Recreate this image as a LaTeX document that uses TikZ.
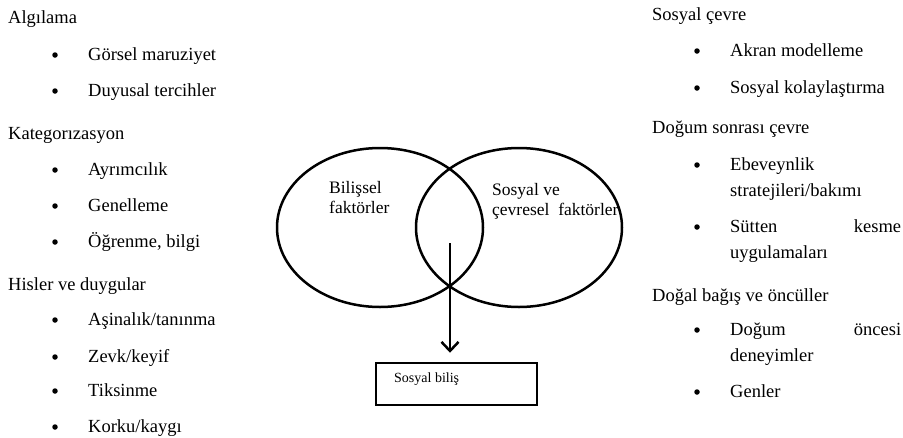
\documentclass[tikz,border=0pt]{standalone}
\usepackage{fontspec}
\setmainfont{Liberation Serif}
\usetikzlibrary{shapes.geometric,arrows.meta,positioning}
\hyphenpenalty=10000
\exhyphenpenalty=10000
\newcommand{\listfont}{\fontsize{18.5}{26}\selectfont}
\newcommand{\vennfont}{\fontsize{17.5}{20}\selectfont}
\newcommand{\boxfont}{\fontsize{14}{16}\selectfont}

\begin{document}
\begin{tikzpicture}[x=1pt, y=-1pt, every node/.style={inner sep=0pt}]
  \tikzset{
    head/.style={anchor=base west, font=\listfont},
    entry/.style={anchor=base west, font=\listfont},
    longentry/.style={anchor=base west, font=\listfont, text width=171pt, align=justify},
    dot/.style={circle, fill, minimum size=5.5pt},
    venn/.style={ellipse, draw, line width=2.5pt, minimum width=206pt, minimum height=159pt},
    vennlabel/.style={anchor=base west, font=\vennfont, align=left},
    resultbox/.style={draw, line width=2.5pt, minimum width=161pt, minimum height=42pt}
  }
  \useasboundingbox (0,0) rectangle (903,437);

  % Left list: cognitive factors
  \node[head] (algi) at (8, 23) {Algılama};
  \node[dot] (d1) at (55, 55) {};  \node[entry] (gorsel) at (88, 60) {Görsel maruziyet};
  \node[dot] (d2) at (55, 91) {};  \node[entry] (duyusal) at (88, 96) {Duyusal tercihler};

  \node[head] (kateg) at (8, 139) {Kategorızasyon};
  \node[dot] (d3) at (55, 170) {}; \node[entry] (ayrim) at (88, 175) {Ayrımcılık};
  \node[dot] (d4) at (55, 206) {}; \node[entry] (genel) at (88, 211) {Genelleme};
  \node[dot] (d5) at (55, 242) {}; \node[entry] (ogren) at (88, 247) {Öğrenme, bilgi};

  \node[head] (hisler) at (8, 290) {Hisler ve duygular};
  \node[dot] (d6) at (55, 320) {}; \node[entry] (asina) at (88, 325) {Aşinalık/tanınma};
  \node[dot] (d7) at (55, 357) {}; \node[entry] (zevk) at (88, 362) {Zevk/keyif};
  \node[dot] (d8) at (55, 391) {}; \node[entry] (tiks) at (88, 396) {Tiksinme};
  \node[dot] (d9) at (55, 427) {}; \node[entry] (korku) at (88, 432) {Korku/kaygı};

  % Right list: social and environmental factors
  \node[head] (sosyal) at (652, 20) {Sosyal çevre};
  \node[dot] (e1) at (697, 51) {};  \node[entry] (akran) at (730, 56) {Akran modelleme};
  \node[dot] (e2) at (697, 88) {};  \node[entry] (kolay) at (730, 93) {Sosyal kolaylaştırma};

  \node[head] (dogum) at (652, 133) {Doğum sonrası çevre};
  \node[dot] (e3) at (697, 165) {}; \node[longentry] (ebev) at (730, 170) {Ebeveynlik stratejileri/bakımı};
  \node[dot] (e4) at (697, 227) {}; \node[longentry] (sutten) at (730, 232) {Sütten kesme uygulamaları};

  \node[head] (dogal) at (652, 301) {Doğal bağış ve öncüller};
  \node[dot] (e5) at (697, 330) {}; \node[longentry] (oncesi) at (730, 335) {Doğum öncesi deneyimler};
  \node[dot] (e6) at (697, 392) {}; \node[entry] (genler) at (730, 397) {Genler};

  % Middle: Venn diagram and result
  \node[venn] (bilis) at (380, 227.5) {};
  \node[venn] (cevre) at (519, 227.5) {};
  \node[vennlabel] (bilislbl) at (329, 213) {Bilişsel\\faktörler};
  \node[vennlabel] (cevrelbl) at (492, 215) {Sosyal ve\\çevresel~ faktörler};

  \node[resultbox] (sonuc) at (456.5, 384) {};
  \node[anchor=base west, font=\boxfont] (sonuclbl) at (394, 382) {Sosyal biliş};

  \coordinate (lens) at (450, 243);
  \draw[line width=2.5pt, -{Straight Barb[length=9pt, width=17pt]}, shorten >=9pt] (lens) -- (lens |- sonuc.north);
\end{tikzpicture}
\end{document}
